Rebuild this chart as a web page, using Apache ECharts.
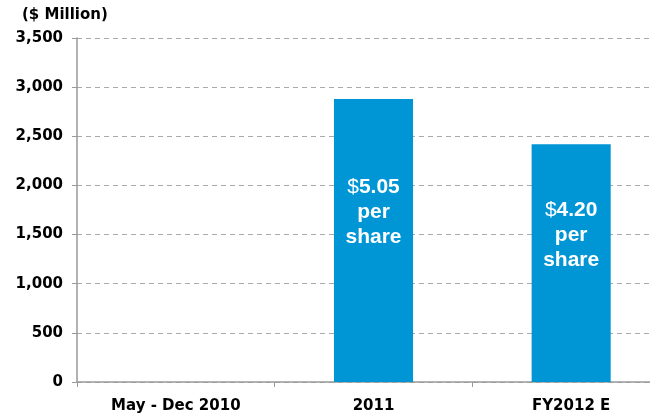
<!DOCTYPE html>
<html>
<head>
<meta charset="utf-8">
<script src="https://cdn.jsdelivr.net/npm/echarts@6/dist/echarts.min.js"></script>
<style>
  html, body { margin: 0; padding: 0; background: #fff; }
  #chart { width: 650px; height: 415px; }
</style>
</head>
<body>
<div id="chart"></div>
<script>
const categories = ['May - Dec 2010', '2011', 'FY2012 E']
const values = [null, 2880, 2420]
const perShare = ['', '5.05', '4.20']
const yTicks = [0, 500, 1000, 1500, 2000, 2500, 3000, 3500]

const axisFont = 'DejaVu Sans, Verdana, sans-serif'
const barFont = 'Liberation Sans, Arial, sans-serif'

const chartDom = echarts.init(document.getElementById('chart'))

const option = {
  animation: false,
  graphic: [
    {
      type: 'text',
      left: 22,
      top: 8,
      style: {
        text: '($ Million)',
        font: 'bold 15px ' + axisFont,
        fill: '#000'
      }
    }
  ],
  // plot runs past the right edge, like the cropped original
  grid: { left: 77, right: -20, top: 38, bottom: 33, outerBoundsMode: 'none', containLabel: false },
  xAxis: {
    type: 'category',
    data: categories,
    axisLine: { lineStyle: { color: '#999', width: 1.5 } },
    axisTick: { show: true, length: 5, lineStyle: { color: '#999' } },
    axisLabel: {
      color: '#000',
      fontFamily: axisFont,
      fontWeight: 'bold',
      fontSize: 15,
      margin: 17
    }
  },
  yAxis: {
    type: 'value',
    min: 0,
    max: yTicks[yTicks.length - 1],
    interval: 500,
    axisLine: { show: true, lineStyle: { color: '#999', width: 1.5 } },
    axisTick: { show: true, length: 5, lineStyle: { color: '#999' } },
    axisLabel: {
      color: '#000',
      fontFamily: axisFont,
      fontWeight: 'bold',
      fontSize: 15,
      margin: 14,
      formatter: (v) => v.toLocaleString('en-US')
    },
    splitLine: { lineStyle: { color: '#aaa', type: [5, 4], width: 1 } }
  },
  series: [
    {
      type: 'bar',
      data: values,
      barWidth: '40%',
      itemStyle: { color: '#0096D6' },
      label: {
        show: true,
        position: 'inside',
        offset: [0, -28],
        color: '#fff',
        formatter: (p) => '{d|$}{b|' + perShare[p.dataIndex] + '}\n{b|per}\n{b|share}',
        rich: {
          d: { fontFamily: barFont, fontSize: 21, color: '#fff', fontWeight: 'normal', lineHeight: 25 },
          b: { fontFamily: barFont, fontSize: 21, color: '#fff', fontWeight: 'bold', lineHeight: 25 }
        }
      }
    }
  ]
}
chartDom.setOption(option)
</script>
</body>
</html>
